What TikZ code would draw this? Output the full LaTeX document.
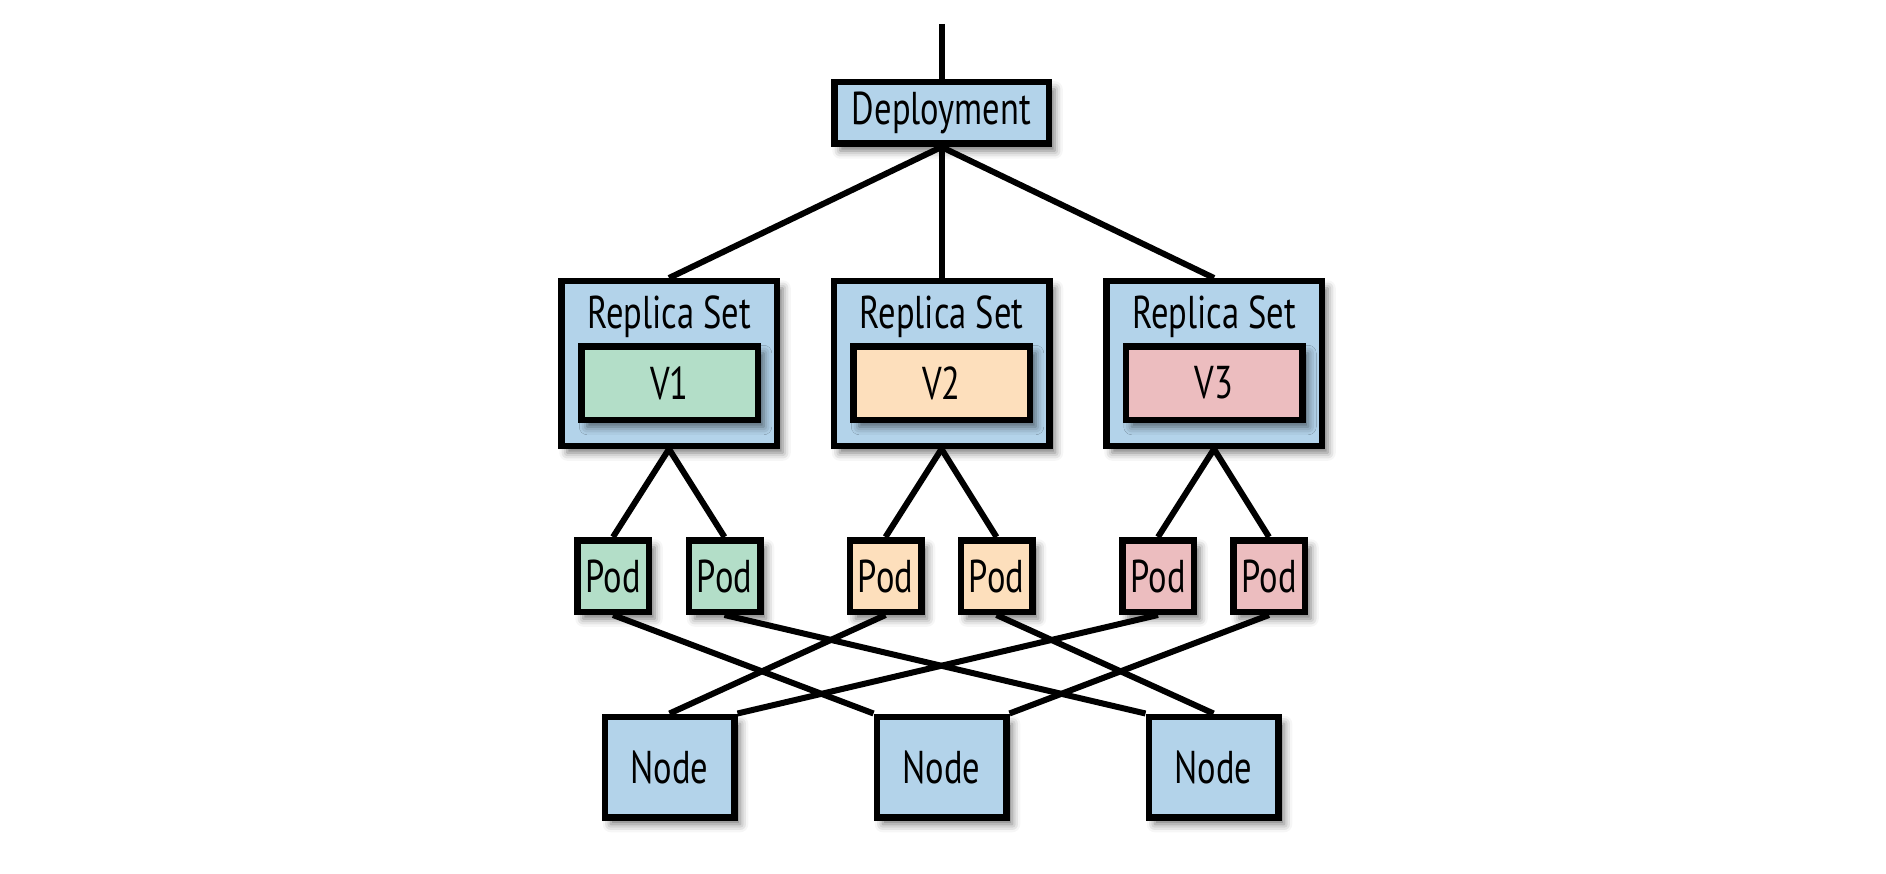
\documentclass[tikz,border=0pt]{standalone}
\usepackage{fontspec}
\setmainfont{PT Sans}[FakeStretch=0.75]
\usetikzlibrary{shadows.blur}
\definecolor{boxblue}{HTML}{B3D3EA}
\definecolor{vgreen}{HTML}{B3DEC8}
\definecolor{vpeach}{HTML}{FDDFBC}
\definecolor{vpink}{HTML}{ECBDBF}
\tikzset{
  base/.style={draw=black, line width=6.5pt, inner sep=0pt,
    font=\fontsize{46}{54}\selectfont,
    blur shadow={shadow xshift=6pt, shadow yshift=-7pt, shadow blur radius=8pt, shadow opacity=55}},
  depbox/.style={base, fill=boxblue, minimum width=214.5pt, minimum height=61.5pt},
  rsbox/.style={base, fill=boxblue, minimum width=215.5pt, minimum height=164.5pt},
  vbox/.style={base, minimum width=176.5pt, minimum height=73.5pt},
  podbox/.style={base, minimum width=71.5pt, minimum height=71.5pt},
  nodebox/.style={base, fill=boxblue, minimum width=129.5pt, minimum height=100.5pt},
  lbl/.style={font=\fontsize{46}{54}\selectfont, inner sep=0pt, anchor=base},
  conn/.style={draw=black, line width=6pt}
}
\begin{document}
\begin{tikzpicture}[x=1pt, y=-1pt]
\useasboundingbox (0,0) rectangle (1886,874);
\coordinate (top) at (941.5,24);
\node[depbox] (dep) at (941.5,113) {Deployment};
% replica sets
\foreach \i/\x in {1/669, 2/941.5, 3/1214} {
  \node[rsbox] (rs\i) at (\x,363.5) {};
  \node[lbl] (rst\i) at (\x,328) {Replica Set};
}
\node[vbox, fill=vgreen] (v1) at (669.5,383) {V1};
\node[vbox, fill=vpeach] (v2) at (941.5,383) {V2};
\node[vbox, fill=vpink] (v3) at (1214,383) {V3};
% pods
\node[podbox, fill=vgreen] (p1) at (613,576) {Pod};
\node[podbox, fill=vgreen] (p2) at (724.5,576) {Pod};
\node[podbox, fill=vpeach] (p3) at (885.5,576) {Pod};
\node[podbox, fill=vpeach] (p4) at (996.5,576) {Pod};
\node[podbox, fill=vpink] (p5) at (1158,576) {Pod};
\node[podbox, fill=vpink] (p6) at (1269,576) {Pod};
% nodes
\node[nodebox] (n1) at (669.5,767) {Node};
\node[nodebox] (n2) at (941.5,767) {Node};
\node[nodebox] (n3) at (1213.5,767) {Node};
% connectors
\draw[conn] (top) -- (dep.north);
\draw[conn] (dep.south) -- (rs1.north);
\draw[conn] (dep.south) -- (rs2.north);
\draw[conn] (dep.south) -- (rs3.north);
\draw[conn] (rs1.south) -- (p1.north);
\draw[conn] (rs1.south) -- (p2.north);
\draw[conn] (rs2.south) -- (p3.north);
\draw[conn] (rs2.south) -- (p4.north);
\draw[conn] (rs3.south) -- (p5.north);
\draw[conn] (rs3.south) -- (p6.north);
\draw[conn] (p1.south) -- (n2.north west);
\draw[conn] (p2.south) -- (n3.north west);
\draw[conn] (p3.south) -- (n1.north);
\draw[conn] (p4.south) -- (n3.north);
\draw[conn] (p5.south) -- (n1.north east);
\draw[conn] (p6.south) -- (n2.north east);
\end{tikzpicture}
\end{document}
